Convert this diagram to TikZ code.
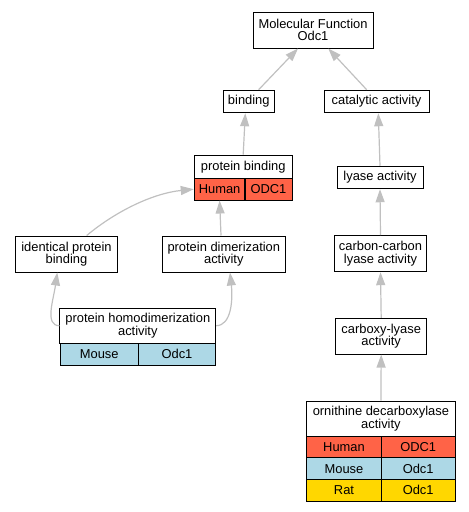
\documentclass[tikz,border=0pt]{standalone}
\usepackage{fontspec}
\setmainfont{Liberation Sans}
\usetikzlibrary{arrows.meta}
\definecolor{human}{HTML}{FF6347}
\definecolor{mouse}{HTML}{ADD8E6}
\definecolor{rat}{HTML}{FFD700}
\definecolor{edgegray}{HTML}{C0C0C0}
\begin{document}
\begin{tikzpicture}[x=1pt,y=-1pt,
  box/.style={draw=black, line width=1pt, fill=white, inner sep=0pt, align=center,
    font=\fontsize{12.9}{12.6}\selectfont},
  cell/.style={box, minimum height=21.7pt},
  edge/.style={draw=edgegray, line width=1.2pt, -{Triangle[length=13pt,width=9pt]}}]
\useasboundingbox (0,0) rectangle (469,512);
% nodes
\node[box, minimum width=120pt, minimum height=36pt] (mf) at (313,30) {Molecular Function\\Odc1};
\node[box, minimum width=51pt, minimum height=22.5pt] (bind) at (248.8,101.5) {binding};
\node[box, minimum width=105pt, minimum height=22.5pt] (cat) at (376.5,101.5) {catalytic activity};
\node[box, minimum width=97.7pt, minimum height=23.3pt] (pbt) at (243.2,166.7) {protein binding};
\node[cell, fill=human, minimum width=50.7pt] (pbh) at (219.6,189.2) {Human};
\node[cell, fill=human, minimum width=47pt] (pbo) at (268.5,189.2) {ODC1};
\node[box, minimum width=86pt, minimum height=22.5pt] (lyase) at (380,177.5) {lyase activity};
\node[box, minimum width=101.5pt, minimum height=36pt] (id) at (66.5,254) {identical protein\\binding};
\node[box, minimum width=123pt, minimum height=36pt] (dim) at (223.8,254) {protein dimerization\\activity};
\node[box, minimum width=92.4pt, minimum height=36pt] (cc) at (380.5,253.7) {carbon-carbon\\lyase activity};
\node[box, minimum width=155.7pt, minimum height=35.3pt] (hdt) at (137.8,325.7) {protein homodimerization\\activity};
\node[cell, fill=mouse, minimum width=78.3pt] (hdm) at (99.2,354.2) {Mouse};
\node[cell, fill=mouse, minimum width=77.4pt] (hdo) at (177,354.2) {Odc1};
\node[box, minimum width=91.5pt, minimum height=35.7pt] (cb) at (381.2,336.2) {carboxy-lyase\\activity};
\node[box, minimum width=148.3pt, minimum height=35.7pt] (ornt) at (380.9,418.9) {ornithine decarboxylase\\activity};
\node[cell, fill=human, minimum width=74.6pt] (orh1) at (344,447.3) {Human};
\node[cell, fill=human, minimum width=73.7pt] (orh2) at (418.2,447.3) {ODC1};
\node[cell, fill=mouse, minimum width=74.6pt] (orm1) at (344,468.7) {Mouse};
\node[cell, fill=mouse, minimum width=73.7pt] (orm2) at (418.2,468.7) {Odc1};
\node[cell, fill=rat, minimum width=74.6pt] (orr1) at (344,490.2) {Rat};
\node[cell, fill=rat, minimum width=73.7pt] (orr2) at (418.2,490.2) {Odc1};
% edges
\draw[edge] ([xshift=9.8pt]bind.north) -- ([xshift=-15pt]mf.south);
\draw[edge] ([xshift=-9.8pt]cat.north) -- ([xshift=15.3pt]mf.south);
\draw[edge] (pbt.north) -- ([xshift=-3.5pt]bind.south);
\draw[edge] (lyase.north) -- ([xshift=1.8pt]cat.south);
\draw[edge] ([xshift=-2.8pt]dim.north) -- (pbh.south);
\draw[edge] ([xshift=20.2pt]id.north) .. controls +(30,-25) and +(-40,4) .. (pbh.west);
\draw[edge] (hdt.west) .. controls +(-15,0) and +(-4,28) .. ([xshift=-9.2pt]id.south);
\draw[edge] (hdt.east) .. controls +(15,0) and +(3,28) .. ([xshift=6.2pt]dim.south);
\draw[edge] (cc.north) -- (lyase.south);
\draw[edge] (cb.north) -- (cc.south);
\draw[edge] (ornt.north) -- (cb.south);
\end{tikzpicture}
\end{document}
